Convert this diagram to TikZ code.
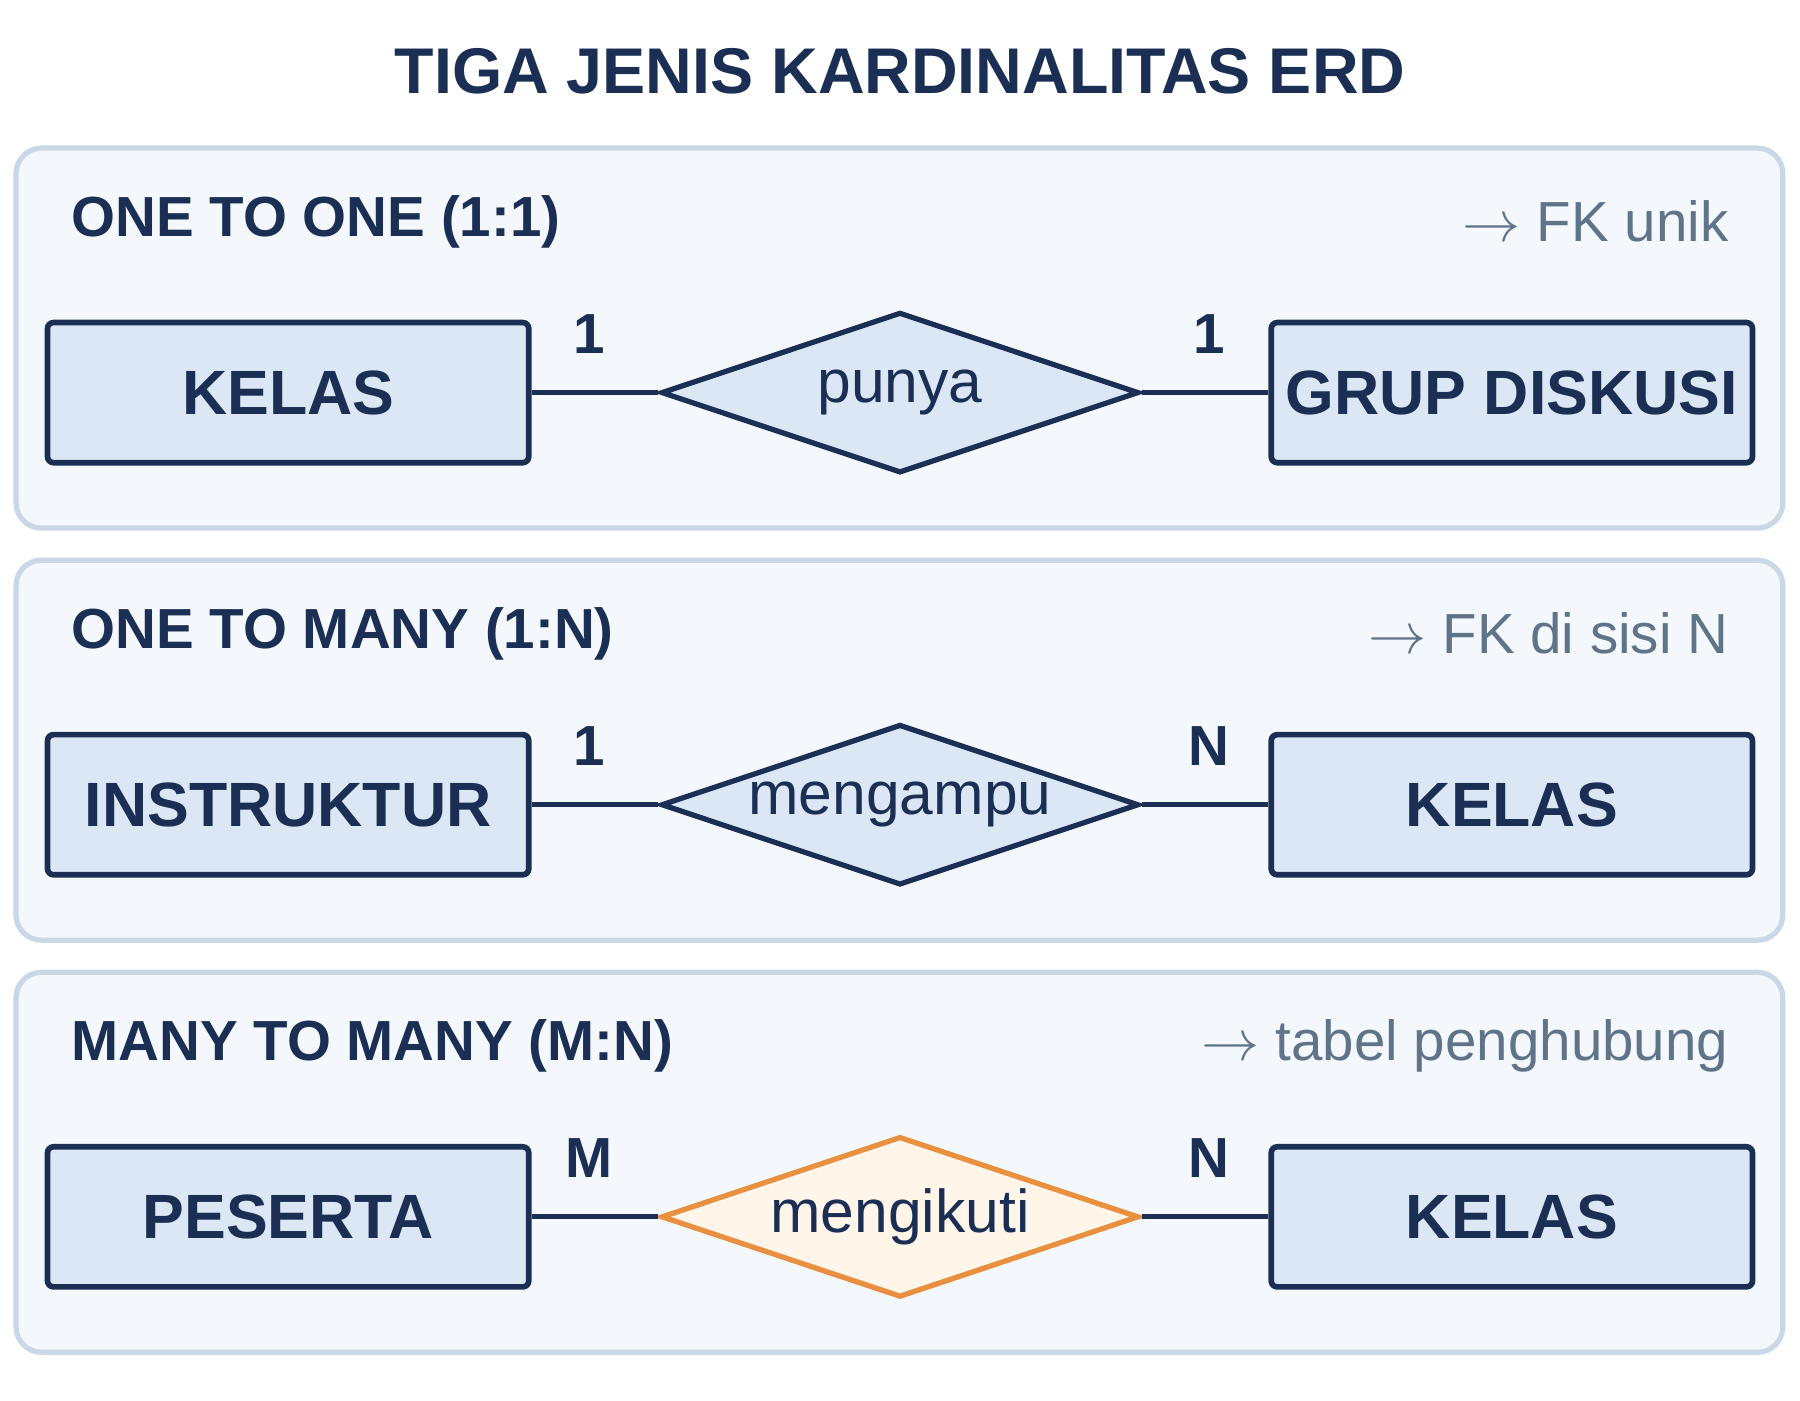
\documentclass[tikz,border=0pt]{standalone}
\usepackage{fontspec}
\setmainfont{Liberation Sans}
\usetikzlibrary{positioning, shapes.geometric}
\definecolor{navy}{HTML}{1B2F55}
\definecolor{panelbg}{HTML}{F4F8FC}
\definecolor{panelline}{HTML}{C9D7E7}
\definecolor{entbg}{HTML}{DCE7F5}
\definecolor{notegray}{HTML}{5F7389}
\definecolor{orangeline}{HTML}{E8903F}
\definecolor{orangebg}{HTML}{FFF5E8}

\begin{document}
\begin{tikzpicture}[x=0.01cm, y=-0.01cm,
                    panel/.style={draw=panelline, line width=1.3pt, fill=panelbg, rounded corners=0.22cm},
                    entity/.style={rectangle, draw=navy, line width=1.4pt, fill=entbg, rounded corners=1.5pt, minimum width=4.19cm, minimum height=1.22cm, font=\bfseries\fontsize{15.5}{18}\selectfont, text=navy},
                    rel/.style={diamond, draw=navy, line width=1.3pt, fill=entbg, aspect=2.97, inner sep=0pt, minimum width=4.16cm, minimum height=1.4cm, font=\fontsize{15}{18}\selectfont, text=navy},
                    relm/.style={rel, draw=orangeline, fill=orangebg},
                    head/.style={anchor=west, font=\bfseries\fontsize{14}{17}\selectfont, text=navy},
                    note/.style={anchor=east, font=\fontsize{14}{17}\selectfont, text=notegray},
                    card/.style={font=\bfseries\fontsize{14}{17}\selectfont, text=navy},
                    link/.style={draw=navy, line width=1.3pt}]
    \useasboundingbox (0,0) rectangle (1568,1220);

    % Title
    \node[font=\bfseries\fontsize{16}{19}\selectfont, text=navy] (title) at (784,62) {TIGA JENIS KARDINALITAS ERD};

    % Panels
    \foreach \i/\dy/\head/\note/\lent/\rname/\rent/\cl/\cr/\rst in {
        a/0/ONE TO ONE (1:1)/FK unik/KELAS/punya/GRUP DISKUSI/1/1/rel,
        b/359/ONE TO MANY (1:N)/FK di sisi N/INSTRUKTUR/mengampu/KELAS/1/N/rel,
        c/718/MANY TO MANY (M:N)/tabel penghubung/PESERTA/mengikuti/KELAS/M/N/relm}{
        \draw[panel] (14,129+\dy) rectangle (1553,460+\dy);
        \node[head] (head-\i) at (50,193+\dy) {\head};
        \node[note] (note-\i) at (1518,193+\dy) {$\rightarrow$ \note};
        \node[entity] (left-\i) at (251,342+\dy) {\lent};
        \node[entity] (right-\i) at (1317,342+\dy) {\rent};
        \node[\rst] (rel-\i) at (784,342+\dy) {\rname};
        \node[card] (cl-\i) at (513,291+\dy) {\cl};
        \node[card] (cr-\i) at (1053,291+\dy) {\cr};
        \draw[link] (left-\i) -- (rel-\i);
        \draw[link] (rel-\i) -- (right-\i);
    }
\end{tikzpicture}
\end{document}
